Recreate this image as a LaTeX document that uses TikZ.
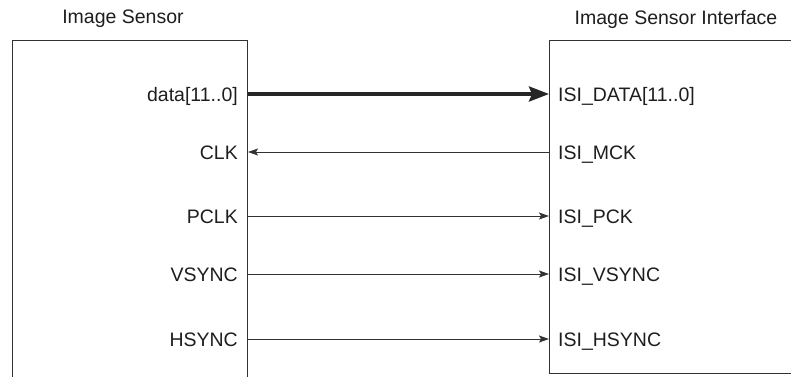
\documentclass[tikz,border=0pt]{standalone}
\usepackage{fontspec}
\setmainfont{Liberation Sans}
\definecolor{lnGray}{RGB}{50,50,50}
\definecolor{txGray}{RGB}{30,30,30}
\usetikzlibrary{arrows.meta,positioning,calc}

\begin{document}
\begin{tikzpicture}[x=1pt,y=-1pt,
    blk/.style={draw=lnGray, line width=1pt, anchor=north west, inner sep=0pt},
    pin/.style={font=\fontsize{19.5}{23}\selectfont, text=txGray,
                text height=14pt, text depth=0pt, inner sep=0pt},
    ttl/.style={font=\fontsize{19.5}{23}\selectfont, text=txGray, inner sep=0pt},
    sig/.style={draw=lnGray, line width=1pt, -{Stealth[length=10pt,width=7pt,inset=2pt]}},
    bus/.style={draw=black!85, line width=3.5pt, -{Stealth[length=20pt,width=15pt,inset=3pt]}}
  ]
    \useasboundingbox (0,0) rectangle (791,376);
    \clip (0,0) rectangle (791,376);

    % Titles
    \node[ttl] (tsen) at (123,19) {Image Sensor};
    \node[ttl] (tisi) at (676,19) {Image Sensor Interface};

    % Blocks
    \node[blk, minimum width=235pt, minimum height=350pt] (sen) at (12,40) {};
    \node[blk, minimum width=260pt, minimum height=333pt] (isi) at (549,40) {};

    % Sensor side pins
    \node[pin, anchor=east] (sdata)  at (238,94)  {data[11..0]};
    \node[pin, anchor=east] (sclk)   at (238,152) {CLK};
    \node[pin, anchor=east] (spclk)  at (238,216) {PCLK};
    \node[pin, anchor=east] (svsync) at (238,274) {VSYNC};
    \node[pin, anchor=east] (shsync) at (238,339) {HSYNC};

    % Interface side pins
    \node[pin, anchor=west] (idata)  at (558,94)  {ISI\_DATA[11..0]};
    \node[pin, anchor=west] (imck)   at (558,152) {ISI\_MCK};
    \node[pin, anchor=west] (ipck)   at (558,216) {ISI\_PCK};
    \node[pin, anchor=west] (ivsync) at (558,274) {ISI\_VSYNC};
    \node[pin, anchor=west] (ihsync) at (558,339) {ISI\_HSYNC};

    % Connections
    \draw[bus] (sdata.east -| sen.east) -- (idata.west -| isi.west);
    \draw[sig] (imck.west -| isi.west) -- (sclk.east -| sen.east);
    \draw[sig] (spclk.east -| sen.east) -- (ipck.west -| isi.west);
    \draw[sig] (svsync.east -| sen.east) -- (ivsync.west -| isi.west);
    \draw[sig] (shsync.east -| sen.east) -- (ihsync.west -| isi.west);
  \end{tikzpicture}
\end{document}
